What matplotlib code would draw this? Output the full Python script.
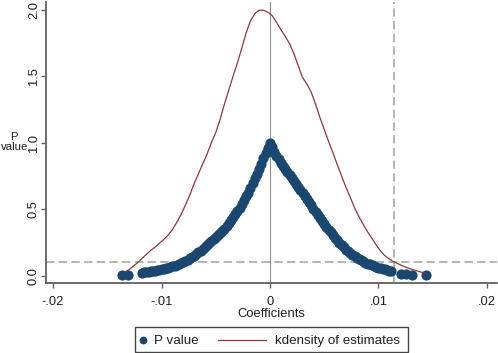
import matplotlib
matplotlib.use("Agg")
import matplotlib.pyplot as plt
from matplotlib.lines import Line2D
from matplotlib.patches import Rectangle

plt.rcParams['font.family'] = ['Liberation Sans', 'DejaVu Sans']

# P value scatter (coefficient, p value)
pv_left_x = [-0.01367, -0.01306,
             -0.0118, -0.0116, -0.0114, -0.0112, -0.0110, -0.0108, -0.0106, -0.0104, -0.0102, -0.0100,
             -0.0098, -0.0096, -0.0094, -0.0092, -0.0090, -0.0088, -0.0086, -0.0084, -0.0082, -0.0080,
             -0.0078, -0.0076, -0.0074, -0.0072, -0.0070, -0.0068, -0.0066, -0.0064, -0.0062, -0.0060,
             -0.0058, -0.0056, -0.0054, -0.0052, -0.0050, -0.0048, -0.0046, -0.0044, -0.0042, -0.0040,
             -0.0038, -0.0036, -0.0034, -0.0032, -0.0030, -0.0028, -0.0026, -0.0024, -0.0022, -0.0020,
             -0.0018, -0.0016, -0.0014, -0.0012, -0.0010, -0.0008, -0.0006, -0.0004, -0.0002]
pv_left_p = [0.006, 0.006,
             0.022, 0.025, 0.027, 0.030, 0.032, 0.035, 0.038, 0.042, 0.045, 0.048,
             0.052, 0.056, 0.061, 0.065, 0.070, 0.076, 0.083, 0.089, 0.096, 0.103,
             0.112, 0.121, 0.130, 0.140, 0.150, 0.162, 0.175, 0.188, 0.201, 0.215,
             0.229, 0.244, 0.259, 0.274, 0.289, 0.304, 0.320, 0.337, 0.354, 0.372,
             0.394, 0.416, 0.439, 0.462, 0.485, 0.512, 0.540, 0.568, 0.596, 0.625,
             0.660, 0.695, 0.731, 0.767, 0.803, 0.842, 0.881, 0.920, 0.960]
pv_right_x = [0.0, 0.0002, 0.0004, 0.0006, 0.0008, 0.0010, 0.0012, 0.0014, 0.0016, 0.0018, 0.0020,
              0.0022, 0.0024, 0.0026, 0.0028, 0.0030, 0.0032, 0.0034, 0.0036, 0.0038, 0.0040,
              0.0042, 0.0044, 0.0046, 0.0048, 0.0050, 0.0052, 0.0054, 0.0056, 0.0058, 0.0060,
              0.0062, 0.0064, 0.0066, 0.0068, 0.0070, 0.0072, 0.0074, 0.0076, 0.0078, 0.0080,
              0.0082, 0.0084, 0.0086, 0.0088, 0.0090, 0.0092, 0.0094, 0.0096, 0.0098, 0.0100,
              0.0102, 0.0104, 0.0106, 0.0108, 0.0110, 0.0112,
              0.01212, 0.01256, 0.01308, 0.01442]
pv_right_p = [1.000, 0.964, 0.928, 0.898, 0.874, 0.850, 0.826, 0.802, 0.778, 0.756, 0.733,
              0.711, 0.688, 0.666, 0.643, 0.620, 0.597, 0.574, 0.551, 0.528, 0.505,
              0.482, 0.459, 0.436, 0.413, 0.390, 0.368, 0.346, 0.325, 0.304, 0.283,
              0.265, 0.246, 0.229, 0.213, 0.197, 0.183, 0.170, 0.157, 0.146, 0.135,
              0.125, 0.116, 0.107, 0.099, 0.091, 0.085, 0.078, 0.072, 0.066, 0.061,
              0.056, 0.051, 0.047, 0.042, 0.038, 0.034,
              0.011, 0.011, 0.006, 0.006]

# kernel density of estimates
kd_x = [-0.01336, -0.0130, -0.0126, -0.0122, -0.0118, -0.0114, -0.0110, -0.0106, -0.0102, -0.0098,
        -0.0094, -0.0090, -0.0086, -0.0082, -0.0078, -0.0074, -0.0070, -0.0066, -0.0062, -0.0058,
        -0.0054, -0.0050, -0.0046, -0.0042, -0.0038, -0.0034, -0.0030, -0.0026, -0.0022, -0.0018,
        -0.0014, -0.0010, -0.0006, -0.0002, 0.0002, 0.0006, 0.0010, 0.0014, 0.0018, 0.0022,
        0.0026, 0.0030, 0.0034, 0.0038, 0.0042, 0.0046, 0.0050, 0.0054, 0.0058, 0.0062,
        0.0066, 0.0070, 0.0074, 0.0078, 0.0082, 0.0086, 0.0090, 0.0094, 0.0098, 0.0102,
        0.0106, 0.0110, 0.0114, 0.0118, 0.0122, 0.0126, 0.0130, 0.0134, 0.0138, 0.0143]
kd_y = [0.030, 0.045, 0.072, 0.098, 0.130, 0.160, 0.190, 0.215, 0.243, 0.272,
        0.305, 0.345, 0.400, 0.460, 0.530, 0.605, 0.690, 0.765, 0.840, 0.915,
        1.000, 1.075, 1.175, 1.290, 1.395, 1.500, 1.600, 1.710, 1.825, 1.915,
        1.970, 1.995, 1.995, 1.980, 1.955, 1.905, 1.850, 1.800, 1.745, 1.670,
        1.580, 1.490, 1.440, 1.380, 1.290, 1.190, 1.100, 1.010, 0.925, 0.835,
        0.750, 0.665, 0.590, 0.510, 0.445, 0.385, 0.330, 0.280, 0.230, 0.185,
        0.150, 0.125, 0.105, 0.090, 0.075, 0.062, 0.050, 0.040, 0.030, 0.020]

x_ticks = [-0.02, -0.01, 0.0, 0.01, 0.02]
x_labels = ['-.02', '-.01', '0', '.01', '.02']
y_ticks = [0.0, 0.5, 1.0, 1.5, 2.0]
y_labels = ['0.0', '0.5', '1.0', '1.5', '2.0']
cutoff_x = 0.01139
cutoff_p = 0.1
legend_labels = ['P value', 'kdensity of estimates']

W, H = 498, 353
fig = plt.figure(figsize=(W / 100, H / 100), dpi=100)
ax = fig.add_axes([46 / W, 1 - 283.3 / H, 451 / W, 281 / H])
ax.set_xlim(-0.02065, 0.02093)
ax.set_ylim(-0.057, 2.055)

navy = '#1a476f'
maroon = '#90353b'
txt = '#1e1e1e'

ax.axvline(0, color='#8c8c8c', lw=0.8, zorder=1)
ax.axvline(cutoff_x, color='#a0a0a0', lw=1.1, dashes=(5.5, 2.8), zorder=1)
ax.axhline(cutoff_p, color='#a0a0a0', lw=1.1, dashes=(5.5, 2.8), zorder=1)

ax.scatter(pv_left_x + pv_right_x, pv_left_p + pv_right_p, s=54, color=navy,
           linewidths=0, zorder=3)
ax.plot(kd_x, kd_y, color=maroon, lw=0.9, zorder=4)

for side in ['top', 'right']:
    ax.spines[side].set_visible(False)
for side in ['left', 'bottom']:
    ax.spines[side].set_color('#5f5f5f')
    ax.spines[side].set_linewidth(1.3)

ax.set_xticks(x_ticks)
ax.set_xticklabels(x_labels)
ax.set_yticks(y_ticks)
ax.set_yticklabels(y_labels)
ax.tick_params(axis='both', colors='#5f5f5f', labelcolor=txt, length=3.8, width=1.0,
               labelsize=9.3)
ax.tick_params(axis='x', pad=5.0)
ax.tick_params(axis='y', pad=0.6, labelrotation=90)
for lab in ax.get_yticklabels():
    lab.set_va('center')

fig.text(14.3 / W, 1 - 142.3 / H, 'P\nvalue', ha='center', va='center', ma='center',
         fontsize=8.2, linespacing=0.95, color=txt)
fig.text(271 / W, 1 - 317 / H, 'Coefficients', ha='center', va='baseline', fontsize=9.4,
         color=txt)

# legend drawn as a framed row below the plot
fig.patches.append(Rectangle((135 / W, 1 - 351.5 / H), 273 / W, 24.8 / H,
                             transform=fig.transFigure, fill=False,
                             edgecolor='#444444', lw=1.0))
fig.lines.append(Line2D([143 / W], [1 - 339.7 / H], marker='o', markersize=5.6,
                        color=navy, markeredgewidth=0, linestyle='none',
                        transform=fig.transFigure))
fig.text(154 / W, 1 - 344 / H, legend_labels[0], ha='left', va='baseline', fontsize=9.6,
         color=txt)
fig.lines.append(Line2D([218 / W, 266 / W], [1 - 339.7 / H, 1 - 339.7 / H], color=maroon,
                        lw=0.9, transform=fig.transFigure))
fig.text(275 / W, 1 - 344 / H, legend_labels[1], ha='left', va='baseline', fontsize=9.6,
         color=txt)

fig.savefig('out.png', dpi=100)
